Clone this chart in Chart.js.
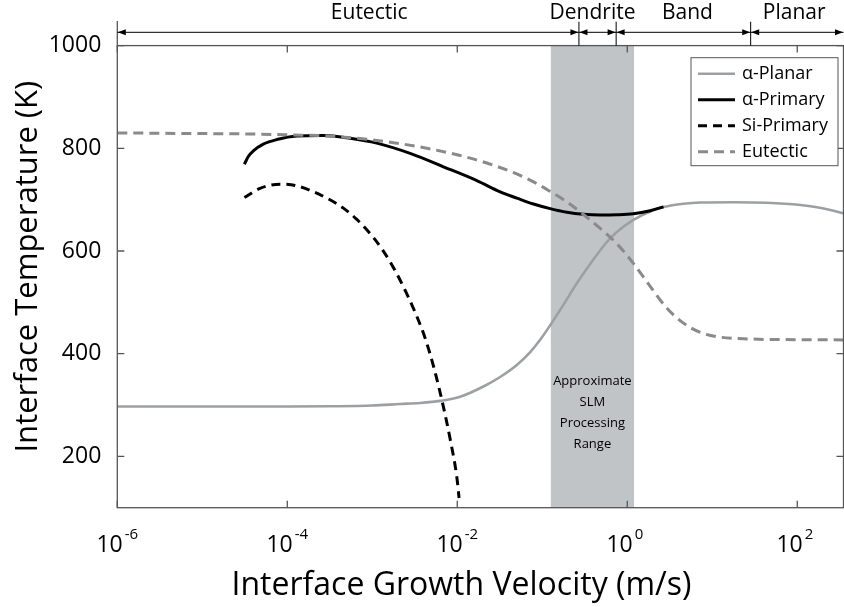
<!DOCTYPE html>
<html>
<head>
<meta charset="utf-8">
<script src="https://cdn.jsdelivr.net/npm/chart.js@4"></script>
<style>
  html, body { margin: 0; padding: 0; background: #fff; }
  #wrap { width: 844px; height: 607px; }
</style>
</head>
<body>
<div id="wrap"><canvas id="chart" width="844" height="607"></canvas></div>
<script>
// axis ranges and ticks
var X_MIN = 1e-6, X_MAX = 350, Y_MIN = 100, Y_MAX = 1000;
var xTicks = [1e-6, 1e-4, 1e-2, 1, 100];
var xTickExp = ["-6", "-4", "-2", "0", "2"];
var yTicks = [200, 400, 600, 800, 1000];

// α-Planar (grey solid)
var planarV = [1e-6, 1e-5, 1e-4, 3.16e-4, 1e-3, 2.13e-3, 3.66e-3, 6.28e-3, 1.08e-2, 2.03e-2, 3.19e-2,
  5.02e-2, 7.21e-2, 9.44e-2, 0.124, 0.178, 0.255, 0.384, 0.575, 0.755, 1.18, 1.86, 2.67, 4.59, 7.23,
  17.8, 44.1, 109, 171, 268, 350];
var planarT = [297, 297, 297, 297.5, 299, 302, 304, 308, 316, 336, 354.6,
  378, 403, 427, 455.5, 495.5, 537, 579.5, 617.5, 637, 660.5, 677, 685.5, 692, 694.4,
  695, 694, 689.5, 685, 678.4, 673.5];

// α-Primary (black solid)
var primaryV = [3.13e-5, 3.48e-5, 3.99e-5, 5.22e-5, 7.52e-5, 1.29e-4, 2.66e-4, 5.48e-4, 1.13e-3, 2.79e-3,
  6.87e-3, 1.70e-2, 3.20e-2, 5.02e-2, 7.89e-2, 0.124, 0.195, 0.305, 0.481, 0.755, 1.18, 1.86, 2.67];
var primaryT = [769, 784, 795, 808, 817, 824, 825, 819.5, 810, 790,
  764, 737, 715, 703, 691.5, 682.5, 675.5, 671.5, 670, 670.5, 672.5, 678.5, 686];

// Si-Primary (black dashed)
var siV = [3.13e-5, 4.79e-5, 8.22e-5, 1.29e-4, 2.92e-4, 4.57e-4, 6.58e-4, 1.03e-3, 1.35e-3, 1.77e-3,
  2.32e-3, 3.05e-3, 4.0e-3, 4.80e-3, 5.74e-3, 6.87e-3, 8.24e-3, 9.89e-3, 1.05e-2];
var siT = [704, 722, 730, 727, 703, 683.5, 661.4, 626.3, 599.8, 567.9,
  530.5, 488, 439.6, 398.5, 350.9, 296.3, 233.9, 158.9, 118.9];

// Eutectic (grey dashed)
var eutV = [1e-6, 5.0e-6, 3.04e-5, 1.18e-4, 2.92e-4, 7.19e-4, 1.77e-3, 4.39e-3, 1.08e-2, 2.67e-2,
  5.02e-2, 7.89e-2, 0.124, 0.195, 0.305, 0.481, 0.755, 1.18, 1.86, 2.93, 4.59, 7.23, 11.4, 28.0, 100, 350];
var eutT = [830, 829, 828, 826, 824, 819, 811, 800, 786, 767,
  750, 734.5, 716, 695.5, 671, 644, 614, 576, 531, 488.5, 459.5, 441.5, 433, 428.6, 427.2, 426.8];

// regime bands along the top
var regionNames = ["Eutectic", "Dendrite", "Band", "Planar"];
var regionEdges = [1e-6, 0.27, 0.74, 28.3, 350];
var regionLabelV = [9.2e-4, 0.39, 5.1, 92];

// SLM processing window
var slmRange = [0.126, 1.2];
var slmText = ["Approximate", "SLM", "Processing", "Range"];

(function () {
  "use strict";
  var FONT = "'Open Sans', 'Noto Sans', sans-serif";
  var AXIS = "#555555";
  var INK = "#000000";
  var PLANAR_GRAY = "#9da0a3";
  var EUT_GRAY = "#8a8a8a";
  var BAND = "#c0c4c6";

  function pts(v, t) { return v.map(function (x, i) { return { x: x, y: t[i] }; }); }

  function arrowHead(ctx, x, y, dir) {
    ctx.beginPath();
    ctx.moveTo(x, y);
    ctx.lineTo(x - dir * 8, y - 3);
    ctx.lineTo(x - dir * 8, y + 3);
    ctx.closePath();
    ctx.fill();
  }

  var marks = {
    id: "marks",
    beforeDatasetsDraw: function (chart) {
      var ctx = chart.ctx, ca = chart.chartArea, xs = chart.scales.x, ys = chart.scales.y;
      var x0 = xs.getPixelForValue(slmRange[0]), x1 = xs.getPixelForValue(slmRange[1]);
      ctx.save();
      ctx.fillStyle = BAND;
      ctx.fillRect(x0, ca.top, x1 - x0, ca.bottom - ca.top);
      ctx.fillStyle = INK;
      ctx.font = "13px " + FONT;
      ctx.textAlign = "center";
      ctx.textBaseline = "middle";
      var ty = ys.getPixelForValue(347);
      slmText.forEach(function (s, i) { ctx.fillText(s, (x0 + x1) / 2, ty + i * 21); });
      ctx.restore();
    },
    afterDatasetsDraw: function (chart) {
      var ctx = chart.ctx, ca = chart.chartArea, xs = chart.scales.x, ys = chart.scales.y;
      ctx.save();

      // box + inward ticks
      ctx.strokeStyle = AXIS;
      ctx.lineWidth = 1.3;
      ctx.strokeRect(ca.left, ca.top, ca.right - ca.left, ca.bottom - ca.top);
      ctx.beginPath();
      ctx.moveTo(ca.left, ca.top); ctx.lineTo(ca.left, 21);
      xTicks.forEach(function (v) {
        var px = xs.getPixelForValue(v);
        ctx.moveTo(px, ca.bottom); ctx.lineTo(px, ca.bottom - 7);
        ctx.moveTo(px, ca.top); ctx.lineTo(px, ca.top + 7);
      });
      yTicks.forEach(function (v) {
        var py = ys.getPixelForValue(v);
        ctx.moveTo(ca.left, py); ctx.lineTo(ca.left + 7, py);
        ctx.moveTo(ca.right, py); ctx.lineTo(ca.right - 7, py);
      });
      ctx.stroke();

      // x tick labels 10^n
      ctx.fillStyle = INK;
      ctx.textAlign = "left";
      ctx.textBaseline = "alphabetic";
      ctx.font = "15px " + FONT;
      var supW = ctx.measureText("-6").width;
      xTicks.forEach(function (v, i) {
        var px = xs.getPixelForValue(v);
        ctx.font = "23px " + FONT;
        var w1 = ctx.measureText("10").width;
        var x0 = px - (w1 + 2 + supW) / 2;
        ctx.fillText("10", x0, 552);
        ctx.font = "15px " + FONT;
        ctx.fillText(xTickExp[i], x0 + w1 + 2, 538.5);
      });

      // axis titles
      ctx.font = "32px " + FONT;
      ctx.textAlign = "center";
      ctx.fillText("Interface Growth Velocity (m/s)", 461.5, 595);
      ctx.save();
      ctx.translate(37, 266.7);
      ctx.rotate(-Math.PI / 2);
      ctx.font = "31px " + FONT;
      ctx.fillText("Interface Temperature (K)", 0, 0);
      ctx.restore();

      // regime arrows along the top
      ctx.strokeStyle = INK;
      ctx.lineWidth = 1;
      var ay = 32.3;
      ctx.beginPath();
      for (var k = 0; k < regionEdges.length - 1; k++) {
        var a = xs.getPixelForValue(regionEdges[k]), b = xs.getPixelForValue(regionEdges[k + 1]);
        ctx.moveTo(a, ay); ctx.lineTo(b, ay);
        if (k > 0) { ctx.moveTo(a, 21.7); ctx.lineTo(a, ca.top); }
      }
      ctx.stroke();
      for (var j = 0; j < regionEdges.length - 1; j++) {
        var l = xs.getPixelForValue(regionEdges[j]), r = xs.getPixelForValue(regionEdges[j + 1]);
        arrowHead(ctx, l + 0.5, ay, -1);
        arrowHead(ctx, Math.min(r, 843.5) - 0.5, ay, 1);
      }
      ctx.font = "21px " + FONT;
      regionNames.forEach(function (n, i) {
        ctx.fillText(n, xs.getPixelForValue(regionLabelV[i]), 18.5);
      });

      // legend box
      var lx = 691, ly = 57.7, lw = 147, lh = 108;
      ctx.fillStyle = "#fff";
      ctx.fillRect(lx, ly, lw, lh);
      ctx.strokeStyle = AXIS;
      ctx.lineWidth = 1;
      ctx.strokeRect(lx, ly, lw, lh);
      ctx.font = "18px " + FONT;
      ctx.textAlign = "left";
      ctx.textBaseline = "middle";
      chart.data.datasets.forEach(function (d, i) {
        var ry = 73.7 + i * 26;
        ctx.strokeStyle = d.borderColor;
        ctx.lineWidth = d.borderWidth;
        ctx.setLineDash(d.borderDash || []);
        ctx.beginPath();
        ctx.moveTo(698, ry); ctx.lineTo(735, ry);
        ctx.stroke();
        ctx.setLineDash([]);
        ctx.fillStyle = INK;
        ctx.fillText(d.label, 742, ry);
      });
      ctx.restore();
    }
  };

  new Chart(document.getElementById("chart"), {
    type: "line",
    data: {
      datasets: [
        { label: "α-Planar", data: pts(planarV, planarT), borderColor: PLANAR_GRAY, borderWidth: 2.6, order: 4 },
        { label: "α-Primary", data: pts(primaryV, primaryT), borderColor: INK, borderWidth: 3, order: 3 },
        { label: "Si-Primary", data: pts(siV, siT), borderColor: INK, borderWidth: 3, borderDash: [9, 6], order: 2 },
        { label: "Eutectic", data: pts(eutV, eutT), borderColor: EUT_GRAY, borderWidth: 3, borderDash: [10, 6], order: 1 },
      ],
    },
    options: {
      responsive: false,
      animation: false,
      layout: { padding: { top: 45.6, right: 0.5, left: 0, bottom: 0 } },
      elements: { point: { radius: 0 }, line: { cubicInterpolationMode: "monotone", fill: false } },
      plugins: { legend: { display: false }, tooltip: { enabled: false } },
      scales: {
        x: {
          type: "logarithmic", min: X_MIN, max: X_MAX,
          grid: { display: false }, border: { display: false },
          ticks: { display: false },
          afterBuildTicks: function (s) { s.ticks = xTicks.map(function (v) { return { value: v }; }); },
          afterFit: function (s) { s.height = 99.3; },
        },
        y: {
          type: "linear", min: Y_MIN, max: Y_MAX,
          grid: { display: false, drawTicks: false }, border: { display: false },
          ticks: {
            color: INK, padding: 16, font: { family: FONT, size: 23 },
            callback: function (v) { return String(v); },
          },
          afterBuildTicks: function (s) { s.ticks = yTicks.map(function (v) { return { value: v }; }); },
          afterFit: function (s) { s.width = 117.3; },
        },
      },
    },
    plugins: [marks],
  });
})();
</script>
</body>
</html>
